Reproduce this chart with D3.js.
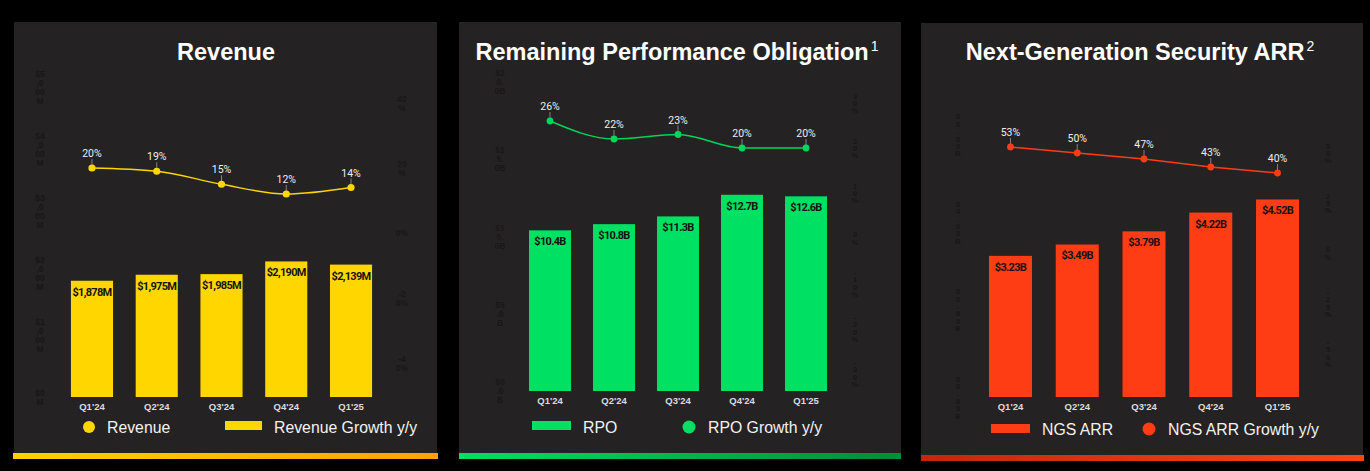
<!DOCTYPE html>
<html>
<head>
<meta charset="utf-8">
<script src="https://cdn.jsdelivr.net/npm/d3@7"></script>
<style>
  html, body { margin: 0; padding: 0; background: #000; }
  svg { display: block; }
</style>
</head>
<body>
<svg id="chart" width="1370" height="471"></svg>
<script>
// ---------- DATA ----------
const quarters = ["Q1'24", "Q2'24", "Q3'24", "Q4'24", "Q1'25"];

const revenueValues = [1878, 1975, 1985, 2190, 2139];          // $M
const revenueLabels = ["$1,878M", "$1,975M", "$1,985M", "$2,190M", "$2,139M"];
const revenueGrowth = [20, 19, 15, 12, 14];                      // %
const revenueLeftTicks = [0, 1000, 2000, 3000, 4000, 5000];
const revenueLeftTickLabels = ["$0M", "$1,000M", "$2,000M", "$3,000M", "$4,000M", "$5,000M"];
const revenueRightTicks = [-40, -20, 0, 20, 40];

const rpoValues = [10.4, 10.8, 11.3, 12.7, 12.6];               // $B
const rpoLabels = ["$10.4B", "$10.8B", "$11.3B", "$12.7B", "$12.6B"];
const rpoGrowth = [26, 22, 23, 20, 20];
const rpoLeftTicks = [0, 5, 10, 15, 20];
const rpoLeftTickLabels = ["$0.0B", "$5.0B", "$10.0B", "$15.0B", "$20.0B"];
const rpoRightTicks = [-30, -20, -10, 0, 10, 20, 30];

const ngsValues = [3.23, 3.49, 3.79, 4.22, 4.52];               // $B
const ngsLabels = ["$3.23B", "$3.49B", "$3.79B", "$4.22B", "$4.52B"];
const ngsGrowth = [53, 50, 47, 43, 40];
const ngsLeftTicks = [0, 2, 4, 6];
const ngsLeftTickLabels = ["$0.00B", "$2.00B", "$4.00B", "$6.00B"];
const ngsRightTicks = [-50, -25, 0, 25, 50];

const titles = ["Revenue", "Remaining Performance Obligation", "Next-Generation Security ARR"];
const titleSups = ["", "1", "2"];
const legendLabels = [
  ["Revenue", "Revenue Growth y/y"],
  ["RPO", "RPO Growth y/y"],
  ["NGS ARR", "NGS ARR Growth y/y"]
];

// ---------- LAYOUT / STYLE ----------
const svg = d3.select("#chart");
svg.append("rect").attr("width", 1370).attr("height", 471).attr("fill", "#000");
const defs = svg.append("defs");

const panels = [
  {
    box: [14, 22, 437, 453], stripe: [13, 453, 438, 459], grad: ["#FFD200", "#FFA200"],
    color: "#FFD600", lineColor: "#FFD600",
    values: revenueValues, labels: revenueLabels, growth: revenueGrowth,
    xRange: [59.6, 383.4], pad: 0.35,
    yDomain: [0, 5000], yRange: [397, 87.5],
    y2Domain: [-40, 40], y2Range: [363, 103],
    leftTicks: revenueLeftTicks, leftTickLabels: revenueLeftTickLabels, leftX: 40, leftWrap: 2,
    rightTicks: revenueRightTicks, rightX: 402, rightWrap: 2,
    curve: d3.curveMonotoneX, xLabelY: 410, pointR: 3.6,
    title: 0, titleX: 226,
    legend: { first: "circle", cx: 89, cy: 427, t1x: 107, rx: 225, ry: 421, t2x: 274, ty: 433 }
  },
  {
    box: [459, 22, 901, 453], stripe: [459, 453, 901, 459], grad: ["#00E063", "#008C3A"],
    color: "#00E063", lineColor: "#00D65C",
    values: rpoValues, labels: rpoLabels, growth: rpoGrowth,
    xRange: [518, 838], pad: 0.344,
    yDomain: [0, 20], yRange: [391, 82],
    y2Domain: [-30, 30], y2Range: [373, 103],
    leftTicks: rpoLeftTicks, leftTickLabels: rpoLeftTickLabels, leftX: 500, leftWrap: 2,
    rightTicks: rpoRightTicks, rightX: 855, rightWrap: 1,
    curve: d3.curveMonotoneX, xLabelY: 404, pointR: 3.4,
    title: 1, titleX: 677,
    legend: { first: "rect", rx: 532, ry: 421, t1x: 583, cx: 689, cy: 427, t2x: 708, ty: 433 }
  },
  {
    box: [921, 23, 1363, 455], stripe: [921, 455, 1364, 461], grad: ["#C2280A", "#FF4416"],
    color: "#FF3D14", lineColor: "#FF3D14",
    values: ngsValues, labels: ngsLabels, growth: ngsGrowth,
    xRange: [977.1, 1310.9], pad: 0.356,
    yDomain: [0, 6], yRange: [397, 134.8],
    y2Domain: [-50, 50], y2Range: [353, 153],
    leftTicks: ngsLeftTicks, leftTickLabels: ngsLeftTickLabels, leftX: 958, leftWrap: 1,
    rightTicks: ngsRightTicks, rightX: 1328, rightWrap: 1,
    curve: d3.curveLinear, xLabelY: 410, pointR: 3.4,
    title: 2, titleX: 1140,
    legend: { first: "rect", rx: 991, ry: 424, t1x: 1042, cx: 1149, cy: 429, t2x: 1168, ty: 435 }
  }
];

const faint = "#1a1718";

function wrapChars(s, n) {
  const out = [];
  for (let i = 0; i < s.length; i += n) out.push(s.slice(i, i + n));
  return out;
}

function stackedLabel(g, x, y, text, wrap) {
  const lines = wrapChars(text, wrap);
  const lh = wrap === 1 ? 7.4 : 9;
  const t = g.append("text")
    .attr("x", x).attr("text-anchor", "middle")
    .attr("font-family", "Liberation Sans, Arial, sans-serif")
    .attr("font-size", wrap === 1 ? 7.5 : 8.5).attr("font-weight", "bold")
    .attr("fill", faint);
  const y0 = y - (lines.length - 1) * lh / 2 + 3;
  lines.forEach((l, i) => t.append("tspan").attr("x", x).attr("y", y0 + i * lh).text(l));
}

panels.forEach((p, pi) => {
  const g = svg.append("g");
  // panel background
  g.append("rect")
    .attr("x", p.box[0]).attr("y", p.box[1])
    .attr("width", p.box[2] - p.box[0]).attr("height", p.box[3] - p.box[1])
    .attr("fill", "#252223");
  // gradient stripe
  const gid = "grad" + pi;
  const lg = defs.append("linearGradient").attr("id", gid).attr("x1", "0%").attr("x2", "100%");
  lg.append("stop").attr("offset", "0%").attr("stop-color", p.grad[0]);
  lg.append("stop").attr("offset", "100%").attr("stop-color", p.grad[1]);
  g.append("rect")
    .attr("x", p.stripe[0]).attr("y", p.stripe[1])
    .attr("width", p.stripe[2] - p.stripe[0]).attr("height", p.stripe[3] - p.stripe[1])
    .attr("fill", `url(#${gid})`);

  // scales
  const x = d3.scaleBand().domain(quarters).range(p.xRange)
    .paddingInner(p.pad).paddingOuter(p.pad / 2);
  const y = d3.scaleLinear().domain(p.yDomain).range(p.yRange);
  const y2 = d3.scaleLinear().domain(p.y2Domain).range(p.y2Range);

  // faint hidden axis labels (as in reference)
  p.leftTicks.forEach((v, i) => stackedLabel(g, p.leftX, y(v), p.leftTickLabels[i], p.leftWrap));
  p.rightTicks.forEach(v => stackedLabel(g, p.rightX, y2(v), v + "%", p.rightWrap));

  // title
  const title = g.append("text")
    .attr("x", p.titleX).attr("y", 59.5).attr("text-anchor", "middle")
    .attr("font-family", "Liberation Sans, Arial, Helvetica, sans-serif")
    .attr("font-weight", "bold").attr("font-size", 23.5).attr("fill", "#fff");
  title.append("tspan").text(titles[p.title]);
  if (titleSups[p.title]) {
    title.append("tspan").attr("font-weight", "normal").attr("font-size", 14)
      .attr("dx", 2).attr("dy", -9).text(titleSups[p.title]);
  }

  // bars
  g.selectAll(".bar").data(p.values).join("rect")
    .attr("x", (d, i) => x(quarters[i]))
    .attr("y", d => y(d))
    .attr("width", x.bandwidth())
    .attr("height", d => y(p.yDomain[0]) - y(d))
    .attr("fill", p.color);

  // bar value labels
  g.selectAll(".bl").data(p.values).join("text")
    .attr("x", (d, i) => x(quarters[i]) + x.bandwidth() / 2)
    .attr("y", d => y(d) + 15)
    .attr("text-anchor", "middle")
    .attr("font-family", "Roboto, sans-serif").attr("font-weight", "bold")
    .attr("font-size", 11).attr("letter-spacing", -0.7)
    .attr("fill", "#141213")
    .text((d, i) => p.labels[i]);

  // x-axis labels via axis
  const xAxis = g.append("g")
    .attr("transform", `translate(0,${p.xLabelY - 7})`)
    .call(d3.axisBottom(x).tickSize(0).tickPadding(0));
  xAxis.select(".domain").remove();
  xAxis.selectAll("text")
    .attr("font-family", "Liberation Sans, Arial, sans-serif")
    .attr("font-weight", "bold").attr("font-size", 9.5).attr("fill", "#dcdcdc");

  // growth line
  const cx = i => x(quarters[i]) + x.bandwidth() / 2;
  const line = d3.line().x((d, i) => cx(i)).y(d => y2(d)).curve(p.curve);
  g.append("path").datum(p.growth)
    .attr("d", line).attr("fill", "none")
    .attr("stroke", p.lineColor).attr("stroke-width", 1.4);

  // leader lines
  g.selectAll(".ll").data(p.growth).join("line")
    .attr("x1", (d, i) => cx(i)).attr("x2", (d, i) => cx(i))
    .attr("y1", d => y2(d) - 2).attr("y2", d => y2(d) - 9)
    .attr("stroke", "#9a9a9a").attr("stroke-width", 0.8);

  g.selectAll(".pt").data(p.growth).join("circle")
    .attr("cx", (d, i) => cx(i)).attr("cy", d => y2(d))
    .attr("r", p.pointR).attr("fill", p.lineColor);

  g.selectAll(".pl").data(p.growth).join("text")
    .attr("x", (d, i) => cx(i)).attr("y", d => y2(d) - 11)
    .attr("text-anchor", "middle")
    .attr("font-family", "Roboto, sans-serif").attr("font-size", 10.5)
    .attr("fill", "#eeeeee")
    .text(d => d + "%");

  // legend
  const L = p.legend;
  const lf = "Liberation Sans, Arial, Helvetica, sans-serif";
  if (L.first === "circle") {
    g.append("circle").attr("cx", L.cx).attr("cy", L.cy).attr("r", 6).attr("fill", p.color);
    g.append("text").attr("x", L.t1x).attr("y", L.ty).attr("font-family", lf)
      .attr("font-size", 15.8).attr("fill", "#f2f2f2").text(legendLabels[pi][0]);
    g.append("rect").attr("x", L.rx).attr("y", L.ry).attr("width", 37).attr("height", 9).attr("fill", p.color);
    g.append("text").attr("x", L.t2x).attr("y", L.ty).attr("font-family", lf)
      .attr("font-size", 15.8).attr("fill", "#f2f2f2").text(legendLabels[pi][1]);
  } else {
    g.append("rect").attr("x", L.rx).attr("y", L.ry).attr("width", 39).attr("height", 9).attr("fill", p.color);
    g.append("text").attr("x", L.t1x).attr("y", L.ty).attr("font-family", lf)
      .attr("font-size", 15.8).attr("fill", "#f2f2f2").text(legendLabels[pi][0]);
    g.append("circle").attr("cx", L.cx).attr("cy", L.cy).attr("r", 6.5).attr("fill", p.color);
    g.append("text").attr("x", L.t2x).attr("y", L.ty).attr("font-family", lf)
      .attr("font-size", 15.8).attr("fill", "#f2f2f2").text(legendLabels[pi][1]);
  }
});
</script>
</body>
</html>
